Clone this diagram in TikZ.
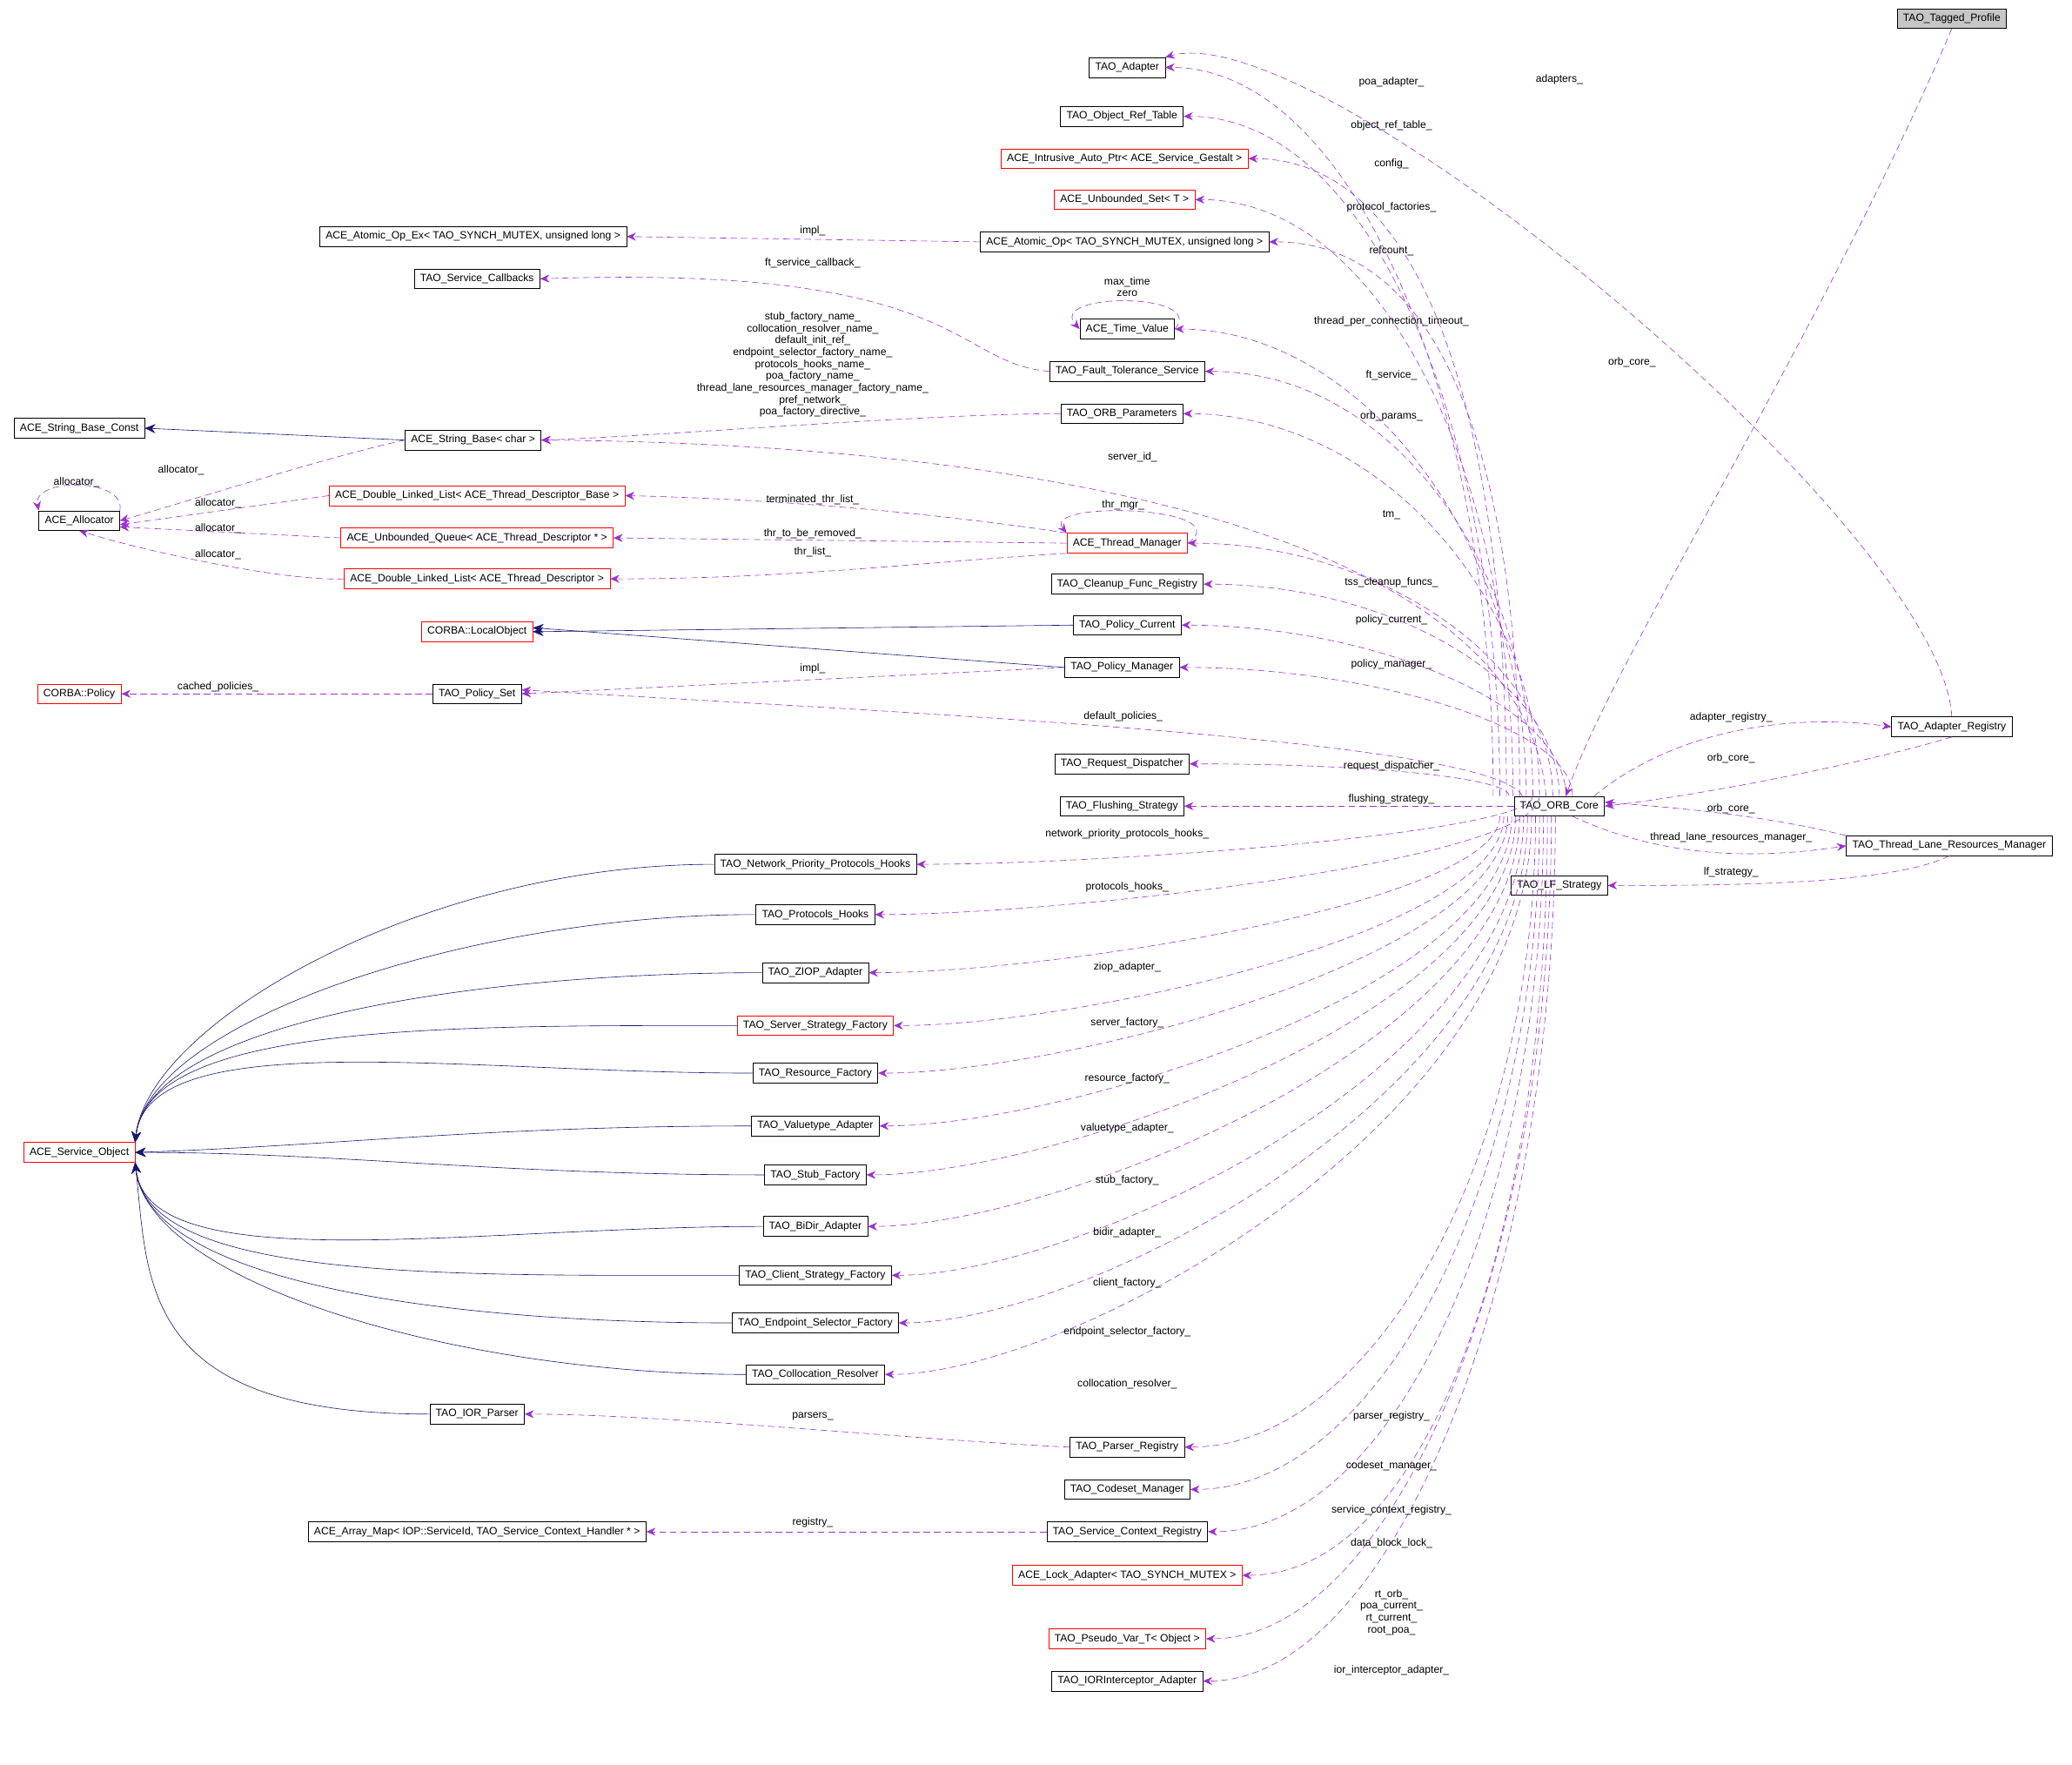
\documentclass[tikz,border=0pt]{standalone}
\usepackage{fontspec}
\setmainfont{Liberation Sans}
\usetikzlibrary{arrows.meta,calc}
\definecolor{usec}{HTML}{9A32CD}
\definecolor{inhc}{HTML}{191970}
\tikzset{
 box/.style={draw=black,fill=white,font=\fontsize{8}{9}\selectfont,inner xsep=4.5pt,inner ysep=0pt,minimum height=15pt},
 rbox/.style={box,draw=red},
 gbox/.style={box,fill=gray!45},
 use/.style={draw=usec,dashed,dash pattern=on 5pt off 3pt,-{Stealth[length=7pt,width=6pt]}},
 inh/.style={draw=inhc,-{Stealth[length=8pt,width=7pt]}},
 lab/.style={font=\fontsize{8}{9}\selectfont,inner sep=1pt,align=center}
}
\newcommand\cul[2]{\draw[use] ([xshift=#2]core.north) .. controls ($([xshift=#2]core.north)!0.55!([xshift=#2]core.north|-#1.east)$) and ($(#1.east)+(140,0)$) .. (#1.east);}
\newcommand\cdl[2]{\draw[use] ([xshift=#2]core.south) .. controls ($([xshift=#2]core.south)!0.55!([xshift=#2]core.south|-#1.east)$) and ($(#1.east)+(140,0)$) .. (#1.east);}
\newcommand\svcu[1]{\draw[inh] (#1.west) .. controls +(-220,0) and +(10,-90) .. (svc.north east);}
\newcommand\svcd[1]{\draw[inh] (#1.west) .. controls +(-220,0) and +(10,90) .. (svc.south east);}
\begin{document}
\begin{tikzpicture}[x=1pt,y=-1pt]
\useasboundingbox (0,0) rectangle (1568,1335);
% nodes
\node[gbox] (tag) at (1477,14) {TAO\_Tagged\_Profile};
\node[box] (adp) at (853,51) {TAO\_Adapter};
\node[box] (ort) at (849,88) {TAO\_Object\_Ref\_Table};
\node[rbox] (iap) at (851,120) {ACE\_Intrusive\_Auto\_Ptr< ACE\_Service\_Gestalt >};
\node[rbox] (ubs) at (851,151) {ACE\_Unbounded\_Set< T >};
\node[box] (aox) at (358,179) {ACE\_Atomic\_Op\_Ex< TAO\_SYNCH\_MUTEX, unsigned long >};
\node[box] (aop) at (851,183) {ACE\_Atomic\_Op< TAO\_SYNCH\_MUTEX, unsigned long >};
\node[box] (scb) at (361,211) {TAO\_Service\_Callbacks};
\node[box] (tv) at (853,249) {ACE\_Time\_Value};
\node[box] (fts) at (853,281) {TAO\_Fault\_Tolerance\_Service};
\node[box] (orp) at (849,313) {TAO\_ORB\_Parameters};
\node[box] (sbc) at (60,324) {ACE\_String\_Base\_Const};
\node[box] (sb) at (358,333) {ACE\_String\_Base< char >};
\node[box] (alc) at (60,394) {ACE\_Allocator};
\node[rbox] (dlb) at (361,375) {ACE\_Double\_Linked\_List< ACE\_Thread\_Descriptor\_Base >};
\node[rbox] (uq) at (361,407) {ACE\_Unbounded\_Queue< ACE\_Thread\_Descriptor * >};
\node[rbox] (dl) at (361,438) {ACE\_Double\_Linked\_List< ACE\_Thread\_Descriptor >};
\node[rbox] (tm) at (853,411) {ACE\_Thread\_Manager};
\node[box] (cfr) at (853,442) {TAO\_Cleanup\_Func\_Registry};
\node[rbox] (lo) at (361,478) {CORBA::LocalObject};
\node[box] (pc) at (853,473) {TAO\_Policy\_Current};
\node[rbox] (cp) at (60,525) {CORBA::Policy};
\node[box] (ps) at (361,525) {TAO\_Policy\_Set};
\node[box] (pm) at (849,505) {TAO\_Policy\_Manager};
\node[box] (rd) at (849,578) {TAO\_Request\_Dispatcher};
\node[box] (fs) at (849,610) {TAO\_Flushing\_Strategy};
\node[box] (core) at (1180,610) {TAO\_ORB\_Core};
\node[box] (ar) at (1477,550) {TAO\_Adapter\_Registry};
\node[box] (tlrm) at (1475,640) {TAO\_Thread\_Lane\_Resources\_Manager};
\node[box] (lfs) at (1180,670) {TAO\_LF\_Strategy};
\node[box] (nph) at (617,654) {TAO\_Network\_Priority\_Protocols\_Hooks};
\node[box] (ph) at (617,692) {TAO\_Protocols\_Hooks};
\node[box] (zio) at (617,736) {TAO\_ZIOP\_Adapter};
\node[rbox] (ssf) at (617,776) {TAO\_Server\_Strategy\_Factory};
\node[box] (rf) at (617,812) {TAO\_Resource\_Factory};
\node[box] (vta) at (617,852) {TAO\_Valuetype\_Adapter};
\node[rbox] (svc) at (60,872) {ACE\_Service\_Object};
\node[box] (stf) at (617,889) {TAO\_Stub\_Factory};
\node[box] (bda) at (617,928) {TAO\_BiDir\_Adapter};
\node[box] (csf) at (617,965) {TAO\_Client\_Strategy\_Factory};
\node[box] (esf) at (617,1001) {TAO\_Endpoint\_Selector\_Factory};
\node[box] (cr) at (617,1040) {TAO\_Collocation\_Resolver};
\node[box] (iorp) at (361,1070) {TAO\_IOR\_Parser};
\node[box] (pr) at (853,1095) {TAO\_Parser\_Registry};
\node[box] (csm) at (853,1127) {TAO\_Codeset\_Manager};
\node[box] (am) at (361,1159) {ACE\_Array\_Map< IOP::ServiceId, TAO\_Service\_Context\_Handler * >};
\node[box] (scr) at (853,1159) {TAO\_Service\_Context\_Registry};
\node[rbox] (la) at (853,1192) {ACE\_Lock\_Adapter< TAO\_SYNCH\_MUTEX >};
\node[rbox] (pv) at (853,1240) {TAO\_Pseudo\_Var\_T< Object >};
\node[box] (iia) at (853,1272) {TAO\_IORInterceptor\_Adapter};
% inheritance
\draw[inh] (sb.west) -- (sbc.east);
\draw[inh] (pc.west) -- (lo.east);
\draw[inh] (pm.west) -- ([yshift=3pt]lo.east);
\svcu{nph}\svcu{ph}\svcu{zio}\svcu{ssf}\svcu{rf}
\draw[inh] (vta.west) .. controls +(-200,0) and +(150,-5) .. (svc.east);
\draw[inh] (stf.west) .. controls +(-200,0) and +(150,0) .. (svc.east);
\svcd{bda}\svcd{csf}\svcd{esf}\svcd{cr}\svcd{iorp}
% usage from core
\cul{adp}{-50pt}\cul{ort}{-45pt}\cul{iap}{-40pt}\cul{ubs}{-35pt}\cul{aop}{-30pt}
\cul{tv}{-25pt}\cul{fts}{-20pt}\cul{orp}{-15pt}\cul{tm}{-5pt}
\cul{cfr}{0pt}\cul{pc}{5pt}\cul{pm}{10pt}\cul{rd}{-38pt}
\draw[use] ([xshift=-10pt]core.north) .. controls (1150,380) and (700,335) .. (sb.east);
\draw[use] ([xshift=-28pt]core.north) .. controls (1130,560) and (700,540) .. ([yshift=3pt]ps.east);
\draw[use] (core.west) -- (fs.east);
\cul{nph}{-20pt}\cul{ph}{-15pt}
\cdl{zio}{-45pt}\cdl{ssf}{-42pt}\cdl{rf}{-39pt}\cdl{vta}{-36pt}\cdl{stf}{-33pt}
\cdl{bda}{-30pt}\cdl{csf}{-27pt}\cdl{esf}{-24pt}\cdl{cr}{-21pt}\cdl{pr}{-18pt}
\cdl{csm}{-15pt}\cdl{scr}{-12pt}\cdl{la}{-9pt}\cdl{pv}{-6pt}\cdl{iia}{-3pt}
\draw[use] (ar.north) .. controls (1470,400) and (1000,10) .. (adp.north east);
\draw[use] (tag.south) .. controls (1380,250) and (1220,500) .. ([xshift=5pt]core.north);
\draw[use] ([xshift=-8pt]core.north east) .. controls (1270,550) and (1360,540) .. (ar.west);
\draw[use] (ar.south) .. controls (1420,575) and (1300,600) .. (core.east);
\draw[use] (tlrm.north west) .. controls (1340,618) and (1280,612) .. ([yshift=3pt]core.east);
\draw[use] ([xshift=10pt]core.south) .. controls (1260,650) and (1330,650) .. (tlrm.west);
\draw[use] (tlrm.south) .. controls (1430,670) and (1300,670) .. (lfs.east);
% other usage
\draw[use] (aop.west) -- (aox.east);
\draw[use] (fts.west) .. controls (720,275) and (730,200) .. (scb.east);
\draw[use] (tv.east) .. controls +(25,-28) and +(-25,-28) .. (tv.west);
\draw[use] (orp.west) .. controls (700,313) and (500,330) .. (sb.east);
\draw[use] (sb.west) .. controls (250,345) and (140,380) .. (alc.east);
\draw[use] (alc.north east) .. controls +(5,-25) and +(-5,-25) .. (alc.north west);
\draw[use] (dlb.west) -- ([yshift=-3pt]alc.east);
\draw[use] (uq.west) -- ([yshift=3pt]alc.south east);
\draw[use] (dl.west) .. controls (220,440) and (120,420) .. (alc.south);
\draw[use] (tm.north west) .. controls (720,390) and (600,378) .. (dlb.east);
\draw[use] (tm.west) -- (uq.east);
\draw[use] (tm.south west) .. controls (700,425) and (600,438) .. (dl.east);
\draw[use] (tm.east) .. controls +(40,-28) and +(-20,-25) .. (tm.north west);
\draw[use] (pm.west) -- (ps.east);
\draw[use] (ps.west) -- (cp.east);
\draw[use] (pr.west) .. controls (700,1090) and (500,1070) .. (iorp.east);
\draw[use] (scr.west) -- (am.east);
% labels
\node[lab] at (1053,62) {poa\_adapter\_};
\node[lab] at (1180,60) {adapters\_};
\node[lab] at (1235,274) {orb\_core\_};
\node[lab] at (1053,95) {object\_ref\_table\_};
\node[lab] at (1053,124) {config\_};
\node[lab] at (1053,157) {protocol\_factories\_};
\node[lab] at (1053,190) {refcount\_};
\node[lab] at (615,175) {impl\_};
\node[lab] at (615,199) {ft\_service\_callback\_};
\node[lab] at (853,217) {max\_time\\zero};
\node[lab] at (1053,243) {thread\_per\_connection\_timeout\_};
\node[lab] at (1053,284) {ft\_service\_};
\node[lab] at (1053,315) {orb\_params\_};
\node[lab,align=center] at (615,276) {stub\_factory\_name\_\\collocation\_resolver\_name\_\\default\_init\_ref\_\\endpoint\_selector\_factory\_name\_\\protocols\_hooks\_name\_\\poa\_factory\_name\_\\thread\_lane\_resources\_manager\_factory\_name\_\\pref\_network\_\\poa\_factory\_directive\_};
\node[lab] at (857,346) {server\_id\_};
\node[lab] at (137,356) {allocator\_};
\node[lab] at (58,365) {allocator\_};
\node[lab] at (165,381) {allocator\_};
\node[lab] at (165,400) {allocator\_};
\node[lab] at (165,420) {allocator\_};
\node[lab] at (615,378) {terminated\_thr\_list\_};
\node[lab] at (615,404) {thr\_to\_be\_removed\_};
\node[lab] at (615,418) {thr\_list\_};
\node[lab] at (850,382) {thr\_mgr\_};
\node[lab] at (1053,390) {tm\_};
\node[lab] at (1053,441) {tss\_cleanup\_funcs\_};
\node[lab] at (1053,469) {policy\_current\_};
\node[lab] at (615,506) {impl\_};
\node[lab] at (165,520) {cached\_policies\_};
\node[lab] at (1053,503) {policy\_manager\_};
\node[lab] at (850,542) {default\_policies\_};
\node[lab] at (1053,580) {request\_dispatcher\_};
\node[lab] at (1053,605) {flushing\_strategy\_};
\node[lab] at (1310,543) {adapter\_registry\_};
\node[lab] at (1310,574) {orb\_core\_};
\node[lab] at (1310,612) {orb\_core\_};
\node[lab] at (1310,634) {thread\_lane\_resources\_manager\_};
\node[lab] at (1310,660) {lf\_strategy\_};
\node[lab] at (853,631) {network\_priority\_protocols\_hooks\_};
\node[lab] at (853,671) {protocols\_hooks\_};
\node[lab] at (853,732) {ziop\_adapter\_};
\node[lab] at (853,774) {server\_factory\_};
\node[lab] at (853,816) {resource\_factory\_};
\node[lab] at (853,854) {valuetype\_adapter\_};
\node[lab] at (853,893) {stub\_factory\_};
\node[lab] at (853,933) {bidir\_adapter\_};
\node[lab] at (853,971) {client\_factory\_};
\node[lab] at (853,1008) {endpoint\_selector\_factory\_};
\node[lab] at (853,1047) {collocation\_resolver\_};
\node[lab] at (1053,1072) {parser\_registry\_};
\node[lab] at (615,1072) {parsers\_};
\node[lab] at (1053,1109) {codeset\_manager\_};
\node[lab] at (1053,1143) {service\_context\_registry\_};
\node[lab] at (615,1152) {registry\_};
\node[lab] at (1053,1168) {data\_block\_lock\_};
\node[lab] at (1053,1220) {rt\_orb\_\\poa\_current\_\\rt\_current\_\\root\_poa\_};
\node[lab] at (1053,1264) {ior\_interceptor\_adapter\_};
\end{tikzpicture}
\end{document}
